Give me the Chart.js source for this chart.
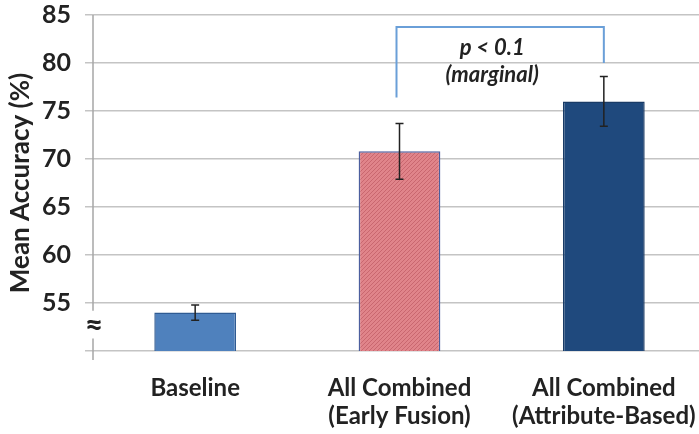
<!DOCTYPE html>
<html>
<head>
<meta charset="utf-8">
<script src="https://cdn.jsdelivr.net/npm/chart.js@4/dist/chart.umd.min.js"></script>
<style>
  html, body { margin: 0; padding: 0; background: #fff; overflow: hidden; }
  #wrap { width: 699px; height: 434px; overflow: hidden; }
</style>
</head>
<body>
<div id="wrap"><canvas id="accChart" width="706" height="434"></canvas></div>
<script>
// data
var categories = [['Baseline'], ['All Combined', '(Early Fusion)'], ['All Combined', '(Attribute-Based)']];
var meanAccuracy = [54.0, 70.8, 76.0];
var errorSize = [0.8, 2.9, 2.6];
var yTicksHidden = [50];
var annotText = ['p < 0.1', '(marginal)'];

function hatchPattern() {
    var c = document.createElement('canvas');
    c.width = 4; c.height = 4;
    var g = c.getContext('2d');
    g.fillStyle = '#e0848a';
    g.fillRect(0, 0, 4, 4);
    g.strokeStyle = '#c9676f';
    g.lineWidth = 1;
    g.beginPath();
    g.moveTo(0, 4); g.lineTo(4, 0);
    g.stroke();
    return g.createPattern(c, 'repeat');
}

// error bars, axis break and the p-value bracket
var extrasPlugin = {
    id: 'extras',
    afterDatasetsDraw: function (chart) {
        var ctx = chart.ctx;
        var x = chart.scales.x, y = chart.scales.y;
        ctx.save();
        ctx.strokeStyle = '#222';
        ctx.lineWidth = 1.5;
        meanAccuracy.forEach(function (v, i) {
            var px = x.getPixelForValue(i);
            var top = y.getPixelForValue(v + errorSize[i]);
            var bot = y.getPixelForValue(v - errorSize[i]);
            ctx.beginPath();
            ctx.moveTo(px, top); ctx.lineTo(px, bot);
            ctx.moveTo(px - 4, top); ctx.lineTo(px + 4, top);
            ctx.moveTo(px - 4, bot); ctx.lineTo(px + 4, bot);
            ctx.stroke();
        });
        ctx.restore();
    },
    afterDraw: function (chart) {
        var ctx = chart.ctx;
        var x = chart.scales.x, y = chart.scales.y;
        var area = chart.chartArea;
        ctx.save();
        // broken y axis line
        ctx.strokeStyle = '#a6a6a6';
        ctx.lineWidth = 1.5;
        ctx.beginPath();
        ctx.moveTo(area.left, area.top);
        ctx.lineTo(area.left, y.getPixelForValue(54.2));
        ctx.moveTo(area.left, y.getPixelForValue(51.3));
        ctx.lineTo(area.left, area.bottom + 9);
        ctx.stroke();
        ctx.fillStyle = '#222';
        ctx.font = 'bold 32px Lato';
        ctx.textAlign = 'center';
        ctx.textBaseline = 'middle';
        ctx.fillText('\u2248', area.left + 1, y.getPixelForValue(52.6));

        // bracket between the two combined bars
        var x1 = x.getPixelForValue(1) - 3;
        var x2 = x.getPixelForValue(2);
        var yTop = y.getPixelForValue(83.75);
        ctx.strokeStyle = '#6a9fd8';
        ctx.lineWidth = 2;
        ctx.beginPath();
        ctx.moveTo(x1, y.getPixelForValue(76.4));
        ctx.lineTo(x1, yTop);
        ctx.lineTo(x2, yTop);
        ctx.lineTo(x2, y.getPixelForValue(80));
        ctx.stroke();
        ctx.fillStyle = '#222';
        ctx.font = 'italic bold 22px Lato';
        var cx = (x1 + x2) / 2 - 8;
        ctx.fillText(annotText[0], cx, y.getPixelForValue(81.6));
        ctx.fillText(annotText[1], cx, y.getPixelForValue(78.8));
        ctx.restore();
    }
};

var accCanvas = document.getElementById('accChart');

Chart.defaults.font.family = 'Lato';
Chart.defaults.color = '#222';

var accChart = new Chart(accCanvas, {
    type: 'bar',
    data: {
        labels: categories,
        datasets: [{
            data: meanAccuracy,
            backgroundColor: ['#4f81bd', hatchPattern(), '#1f497d'],
            borderColor: ['#2f5b93', '#4c5f9e', '#193b66'],
            borderWidth: 1.5,
            borderSkipped: false,
            barPercentage: 0.8,
            categoryPercentage: 0.5
        }]
    },
    options: {
        responsive: false,
        animation: false,
        layout: { padding: { top: 15, right: 0, bottom: 0, left: 0 } },
        plugins: {
            legend: { display: false },
            tooltip: { enabled: false }
        },
        scales: {
            x: {
                grid: { display: false },
                border: { display: false },
                ticks: {
                    padding: 15,
                    font: { size: 24, weight: 'bold', lineHeight: 1.167 },
                    maxRotation: 0
                },
                afterFit: function (scale) {
                    scale.height = 83;
                    scale.paddingLeft = 0;
                    scale.paddingRight = 0;
                }
            },
            y: {
                min: 50,
                max: 85,
                border: { display: false },
                grid: { color: '#c4c4c4', lineWidth: 1.5, tickLength: 8 },
                ticks: {
                    stepSize: 5,
                    padding: 14,
                    font: { size: 25, weight: 'bold' },
                    callback: function (v) { return yTicksHidden.indexOf(v) >= 0 ? '' : v; }
                },
                title: {
                    display: true,
                    text: 'Mean Accuracy (%)',
                    font: { size: 26, weight: 'bold' },
                    padding: { top: 5, bottom: 0 }
                },
                afterFit: function (scale) {
                    scale.width = 93;
                    scale.paddingTop = 0;
                    scale.paddingBottom = 0;
                }
            }
        }
    },
    plugins: [extrasPlugin]
});
</script>
</body>
</html>
